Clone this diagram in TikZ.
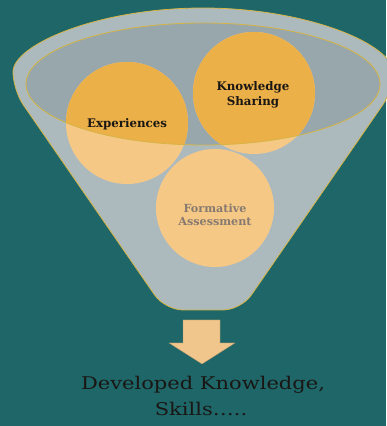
\documentclass[tikz,border=0pt]{standalone}
\usepackage{fontspec}
\setmainfont{DejaVu Serif}
\newfontfamily\widefont{DejaVu Serif}[FakeStretch=1.2]
\definecolor{bgteal}{RGB}{30,102,104}
\definecolor{funnelgray}{RGB}{172,186,190}
\definecolor{ellgray}{RGB}{152,167,172}
\definecolor{rimyellow}{RGB}{214,180,70}
\definecolor{deeporange}{RGB}{236,176,72}
\definecolor{lightpeach}{RGB}{246,200,134}
\definecolor{fatext}{RGB}{135,122,112}
\definecolor{arrowpeach}{RGB}{240,198,140}
\definecolor{darktext}{RGB}{25,22,20}
\tikzset{
  ball/.style={circle, minimum size=#1, inner sep=0pt},
  balltext/.style={font=\fontsize{11.8}{14.5}\selectfont\bfseries, align=center, text=darktext},
  bigtext/.style={font=\widefont\fontsize{17.5}{26}\selectfont, text=darktext, anchor=base},
}
\begin{document}
\begin{tikzpicture}[x=1pt,y=1pt]
\useasboundingbox (0,0) rectangle (386,426);
\fill[bgteal] (0,0) rectangle (386,426);
% funnel
\draw[rimyellow, line width=0.8pt, fill=funnelgray, rounded corners=18pt]
  (13,336) arc[start angle=180, end angle=0, x radius=190, y radius=82]
  -- (241,116) -- (165,116) -- cycle;
% inner ellipse fill
\fill[ellgray] (203,342) ellipse[x radius=177, y radius=61];
% circles (light)
\node[ball=122pt, fill=lightpeach] (exp) at (127,303) {};
\node[ball=122pt, fill=lightpeach] (ks) at (254,333) {};
\node[ball=118pt, fill=lightpeach] (fa) at (215,218) {};
% circles inside ellipse (deeper)
\begin{scope}
  \clip (203,342) ellipse[x radius=177, y radius=61];
  \fill[deeporange] (exp.center) circle[radius=61];
  \fill[deeporange] (ks.center) circle[radius=61];
\end{scope}
\draw[rimyellow, line width=0.8pt] (203,342) ellipse[x radius=177, y radius=61];
% texts
\node[balltext] (expt) at (127,302) {Experiences};
\node[balltext] (kst) at (253,331) {Knowledge\\Sharing};
\node[balltext, text=fatext, font=\fontsize{11.2}{13.5}\selectfont\bfseries] (fat) at (215,211) {Formative\\Assessment};
% arrow
\fill[arrowpeach, draw=arrowpeach!70!black, line width=0.3pt]
  (183,106) -- (220,106) -- (220,83) -- (235,83) -- (202,62) -- (169,83) -- (183,83) -- cycle;
% bottom text
\node[bigtext] (dev) at (203,36) {Developed Knowledge,};
\node[bigtext] (sk) at (201,10) {Skills\ldots..};
\end{tikzpicture}
\end{document}
